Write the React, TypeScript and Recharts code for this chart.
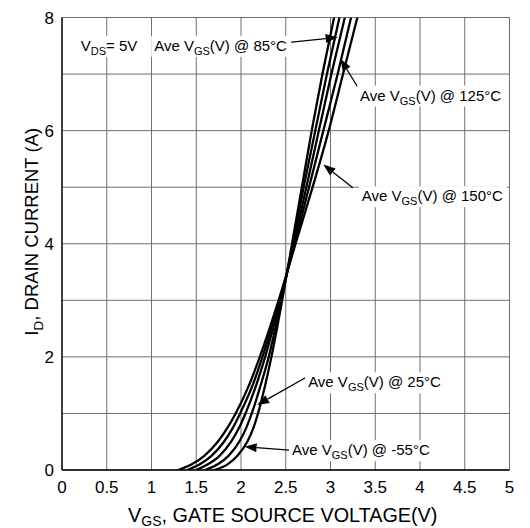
import React from 'react';
import { LineChart, Line, XAxis, YAxis, CartesianGrid, ReferenceLine, ReferenceDot } from 'recharts';

// Drain current levels (A) at which gate-source voltage is read, per temperature curve
const currentLevels = [0, 0.1, 0.25, 0.5, 0.75, 1, 1.5, 2, 3, 4, 5, 6, 7, 8];
const vgsMinus55C = [1.7, 1.85, 1.96, 2.07, 2.14, 2.19, 2.27, 2.34, 2.46, 2.57, 2.68, 2.79, 2.91, 3.04];
const vgs25C = [1.6, 1.74, 1.86, 1.98, 2.06, 2.12, 2.22, 2.31, 2.45, 2.58, 2.7, 2.83, 2.96, 3.1];
const vgs85C = [1.5, 1.63, 1.76, 1.89, 1.98, 2.05, 2.17, 2.27, 2.44, 2.59, 2.73, 2.87, 3.01, 3.16];
const vgs125C = [1.4, 1.54, 1.67, 1.81, 1.91, 1.99, 2.13, 2.24, 2.43, 2.6, 2.76, 2.92, 3.08, 3.23];
const vgs150C = [1.3, 1.45, 1.59, 1.74, 1.85, 1.94, 2.09, 2.21, 2.42, 2.61, 2.8, 2.98, 3.14, 3.3];

const xTicks = [0, 0.5, 1, 1.5, 2, 2.5, 3, 3.5, 4, 4.5, 5];
const yTicks = [0, 1, 2, 3, 4, 5, 6, 7, 8];

const seriesList = [
  { name: '-55°C', vgs: vgsMinus55C },
  { name: '25°C', vgs: vgs25C },
  { name: '85°C', vgs: vgs85C },
  { name: '125°C', vgs: vgs125C },
  { name: '150°C', vgs: vgs150C },
];
const buildData = (vgs: number[]) => vgs.map((v, k) => ({ v, i: currentLevels[k] }));

const FONT = 'Liberation Sans, Arial, Helvetica, sans-serif';

// Annotation texts (anchor in data units) and their leader arrows
const notes = [
  { pre: 'V', sub: 'DS', post: '= 5V', x: 0.21, y: 7.5, w: 54 },
  { pre: 'Ave V', sub: 'GS', post: '(V) @ 85°C', x: 1.03, y: 7.5, w: 134 },
  { pre: 'Ave V', sub: 'GS', post: '(V) @ 125°C', x: 3.33, y: 6.62, w: 142 },
  { pre: 'Ave V', sub: 'GS', post: '(V) @ 150°C', x: 3.35, y: 4.84, w: 142 },
  { pre: 'Ave V', sub: 'GS', post: '(V) @ 25°C', x: 2.75, y: 1.55, w: 134 },
  { pre: 'Ave V', sub: 'GS', post: '(V) @ -55°C', x: 2.57, y: 0.35, w: 138 },
];
const arrows = [
  { from: { x: 2.54, y: 7.56 }, to: { x: 3.08, y: 7.65 } },
  { from: { x: 3.3, y: 6.78 }, to: { x: 3.11, y: 7.27 } },
  { from: { x: 3.25, y: 4.99 }, to: { x: 2.92, y: 5.4 } },
  { from: { x: 2.72, y: 1.63 }, to: { x: 2.18, y: 1.15 } },
  { from: { x: 2.54, y: 0.35 }, to: { x: 2.04, y: 0.41 } },
];

const ArrowShape = (p: any) => {
  const { x1, y1, x2, y2 } = p;
  const dx = x2 - x1;
  const dy = y2 - y1;
  const len = Math.sqrt(dx * dx + dy * dy) || 1;
  const ux = dx / len;
  const uy = dy / len;
  const L = 12;
  const W = 4.5;
  const bx = x2 - ux * L;
  const by = y2 - uy * L;
  const pts = `${x2},${y2} ${bx - uy * W},${by + ux * W} ${bx + uy * W},${by - ux * W}`;
  return (
    <g>
      <line x1={x1} y1={y1} x2={bx} y2={by} stroke="#000" strokeWidth={1.3} />
      <polygon points={pts} fill="#000" />
    </g>
  );
};

const makeNoteShape = (n: any) => (p: any) => {
  const { cx, cy } = p;
  return (
    <g>
      <rect x={cx - 3} y={cy - 10} width={n.w + 6} height={21} fill="#fff" />
      <text x={cx} y={cy + 5} fontSize={15} fontFamily={FONT} fill="#000">
        <tspan>{n.pre}</tspan>
        <tspan fontSize={11} dy={4}>{n.sub}</tspan>
        <tspan dy={-4}>{n.post}</tspan>
      </text>
    </g>
  );
};

const XTitle = (p: any) => {
  const vb = p.viewBox || { x: 62, y: 470, width: 447, height: 58 };
  const cx = vb.x + vb.width / 2 - 3;
  return (
    <text x={cx} y={vb.y + 51.5} textAnchor="middle" fontSize={19.8} fontFamily={FONT} fill="#000">
      <tspan>V</tspan>
      <tspan fontSize={14} dy={4}>GS</tspan>
      <tspan dy={-4}>, GATE SOURCE VOLTAGE(V)</tspan>
    </text>
  );
};

const YTitle = (p: any) => {
  const vb = p.viewBox || { x: 0, y: 17.5, width: 62, height: 452 };
  const cx = 38;
  const cy = vb.y + vb.height / 2 - 12;
  return (
    <text
      x={cx}
      y={cy}
      transform={`rotate(-90, ${cx}, ${cy})`}
      textAnchor="middle"
      fontSize={18.5}
      fontFamily={FONT}
      fill="#000"
    >
      <tspan>I</tspan>
      <tspan fontSize={13.5} dy={5}>D</tspan>
      <tspan dy={-5}>, DRAIN CURRENT (A)</tspan>
    </text>
  );
};

export default function App() {
  return (
    <div style={{ position: 'absolute', left: 0, top: 0, width: 530, height: 528, background: '#fff' }}>
      <LineChart width={530} height={528} margin={{ top: 17.5, right: 20.5, bottom: 0, left: 0 }}>
        <CartesianGrid stroke="#6f6f6f" strokeWidth={1} />
        <XAxis
          dataKey="v"
          type="number"
          domain={[0, 5]}
          ticks={xTicks}
          interval={0}
          height={58}
          tickLine={false}
          tickMargin={5}
          axisLine={{ stroke: '#000', strokeWidth: 1.3 }}
          tick={{ fontSize: 17, fill: '#000', fontFamily: FONT }}
          allowDataOverflow
          label={{ content: (props: any) => <XTitle {...props} /> }}
        />
        <YAxis
          dataKey="i"
          type="number"
          domain={[0, 8]}
          ticks={yTicks}
          interval={0}
          width={62}
          tickLine={false}
          tickFormatter={(t: number) => (t % 2 === 0 ? String(t) : '')}
          axisLine={{ stroke: '#000', strokeWidth: 1.3 }}
          tick={{ fontSize: 17, fill: '#000', fontFamily: FONT }}
          allowDataOverflow
          label={{ content: (props: any) => <YTitle {...props} /> }}
        />
        {seriesList.map((s) => (
          <Line
            key={s.name}
            name={s.name}
            data={buildData(s.vgs)}
            dataKey="i"
            type="monotone"
            stroke="#000"
            strokeWidth={2.3}
            dot={false}
            isAnimationActive={false}
          />
        ))}
        {arrows.map((a, k) => (
          <ReferenceLine
            key={'a' + k}
            segment={[a.from, a.to]}
            stroke="#000"
            shape={ArrowShape}
            ifOverflow="visible"
          />
        ))}
        {notes.map((n, k) => (
          <ReferenceDot
            key={'n' + k}
            x={n.x}
            y={n.y}
            r={0}
            ifOverflow="visible"
            shape={makeNoteShape(n)}
          />
        ))}
      </LineChart>
    </div>
  );
}
